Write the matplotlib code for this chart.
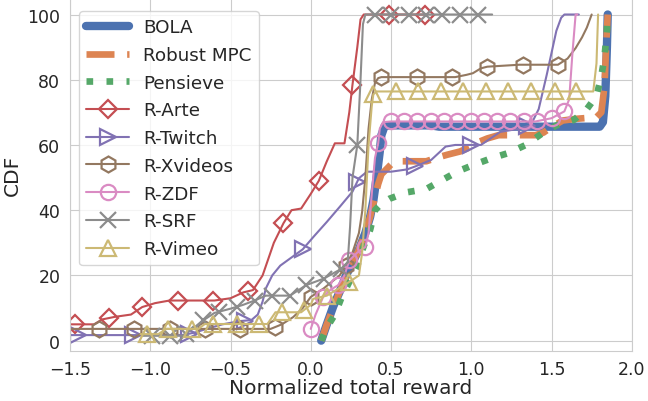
import matplotlib
matplotlib.use('Agg')
import matplotlib.pyplot as plt
import numpy as np
import seaborn as sns

# curve points (x = normalized total reward, y = CDF %)
bola_x = [0.065, 0.1, 0.14, 0.18, 0.22, 0.26, 0.3, 0.34, 0.37, 0.39, 0.41, 0.43, 0.44, 0.46, 0.5,
          0.75, 0.8, 1.8, 1.82, 1.835, 1.845, 1.85]
bola_y = [0, 5, 10.5, 15, 20, 24, 28, 33, 38, 43, 50, 58, 63, 65.8, 66,
          66, 65.6, 65.6, 67, 75, 90, 100]

mpc_x = [0.065, 0.1, 0.14, 0.18, 0.22, 0.26, 0.3, 0.34, 0.37, 0.4, 0.42, 0.44, 0.47, 0.5, 0.55,
         0.72, 0.78, 0.85, 0.93, 1.0, 1.05, 1.1, 1.17, 1.4, 1.45, 1.5, 1.57, 1.65, 1.78, 1.81,
         1.83, 1.84, 1.85]
mpc_y = [0, 5, 10, 15, 19.5, 23.5, 28, 33, 38, 44, 48, 51, 52.5, 54, 55,
         55, 56, 57, 58, 59.5, 61, 62, 63, 63, 63.8, 65.5, 67.5, 68, 68.5, 70,
         78, 90, 100]

pen_x = [0.065, 0.1, 0.15, 0.19, 0.25, 0.29, 0.33, 0.37, 0.4, 0.44, 0.49, 0.6, 0.72, 0.81, 0.92,
         1.02, 1.13, 1.23, 1.34, 1.44, 1.53, 1.64, 1.72, 1.78, 1.81, 1.83, 1.845, 1.85]
pen_y = [0, 4, 8, 13, 19, 23, 29, 34, 40, 42, 43.5, 45.5, 46.5, 49, 52,
         54, 56, 57.5, 60, 63.5, 66, 67.7, 71, 75, 81, 87, 95, 100]

arte_x = [-1.5, -1.35, -1.3, -1.22, -1.12, -1.05, -0.97, -0.88, -0.6, -0.5, -0.42, -0.36, -0.3,
          -0.23, -0.17, -0.12, -0.06, 0.0, 0.05, 0.1, 0.15, 0.21, 0.24, 0.26, 0.29, 0.31, 0.33, 0.72]
arte_y = [5, 5, 6.5, 7.3, 8, 10.3, 11.5, 12.3, 12.3, 13, 14.8, 15.5, 20,
          30, 36, 40, 40.5, 45, 49, 55, 60.5, 60.5, 70, 78.5, 90, 98.5, 100, 100]
arte_marks = [-1.47, -1.26, -1.05, -0.83, -0.61, -0.39, -0.17, 0.05, 0.26, 0.49, 0.71]

tw_x = [-1.5, -1.0, -0.8, -0.72, -0.65, -0.55, -0.44, -0.37, -0.33, -0.3, -0.28, -0.24, -0.19,
        -0.12, -0.05, 0.02, 0.1, 0.18, 0.26, 0.3, 0.35, 0.5, 0.6, 0.65, 0.75, 0.84, 0.9, 1.06,
        1.12, 1.18, 1.3, 1.37, 1.42, 1.47, 1.53, 1.56, 1.58, 1.67]
tw_y = [1.7, 1.7, 1.7, 2.5, 3.6, 5, 6, 6.3, 8, 12, 16, 20, 23,
        25.5, 28, 32, 36.4, 41, 45.7, 49.8, 51.8, 51.8, 52.5, 53.4, 55.4, 59.5, 60, 60,
        62, 64, 65, 66, 71, 81.5, 95, 99, 100, 100]
tw_marks = [-1.45, -1.11, -0.76, -0.41, -0.05, 0.29, 0.65, 1.0, 1.35]

xv_x = [-1.5, -0.25, -0.18, -0.11, -0.05, 0.0, 0.08, 0.18, 0.22, 0.26, 0.3, 0.32, 0.34, 0.36,
        0.38, 0.4, 0.42, 0.44, 0.9, 0.97, 1.01, 1.06, 1.1, 1.3, 1.54, 1.6, 1.65, 1.69, 1.72, 1.75]
xv_y = [3.6, 3.6, 5, 7.2, 10, 13.4, 16, 20, 23, 27, 33, 39.5, 50, 65,
        74, 79, 80.5, 80.8, 80.8, 81.5, 82, 83.5, 84, 84.6, 84.6, 86.5, 89.7, 93, 96, 100]
xv_marks = [-1.32, -1.1, -0.88, -0.66, -0.44, -0.22, 0.0, 0.22, 0.44, 0.66, 0.88, 1.1, 1.32, 1.54]

zdf_x = [0.0, 0.03, 0.077, 0.12, 0.17, 0.21, 0.24, 0.29, 0.34, 0.36, 0.38, 0.4, 0.42, 0.43, 0.45,
         0.5, 1.4, 1.5, 1.58, 1.61, 1.63, 1.65, 1.66]
zdf_y = [3.6, 8, 13.4, 15.5, 17, 20, 24.6, 27, 28.7, 33, 45, 56, 60.5, 65, 67,
         67.2, 67.2, 68.2, 70.3, 74, 88, 100, 100]
zdf_marks = [0.0, 0.077, 0.17, 0.24, 0.34, 0.42, 0.5, 0.58, 0.66, 0.75, 0.83, 0.91, 1.0, 1.08,
             1.16, 1.24, 1.33, 1.41, 1.5, 1.58]

srf_x = [-1.05, -0.8, -0.74, -0.67, -0.6, -0.5, -0.42, -0.35, -0.28, -0.13, -0.06, -0.03, 0.08,
         0.19, 0.23, 0.245, 0.26, 0.29, 0.31, 0.325, 0.34, 1.13]
srf_y = [1.5, 1.5, 3.5, 6.2, 8.5, 9.8, 11, 12.3, 13.8, 13.8, 16, 17, 19,
         22, 24, 35, 50, 60, 80, 97, 100, 100]
srf_marks = [-0.99, -0.88, -0.78, -0.67, -0.57, -0.46, -0.35, -0.24, -0.13, -0.03, 0.08, 0.19,
             0.29, 0.4, 0.5, 0.61, 0.72, 0.82, 0.93, 1.04]

vim_x = [-1.06, -0.95, -0.9, -0.7, -0.66, -0.27, -0.22, -0.06, 0.0, 0.015, 0.1, 0.24, 0.3, 0.32,
         0.34, 0.36, 0.38, 0.39, 0.41, 1.76, 1.78, 1.79]
vim_y = [2, 2, 3.6, 3.6, 5.1, 5.1, 8.7, 8.7, 11, 12.8, 13.8, 18, 20, 27,
         40, 60, 72, 75.5, 76.4, 76.4, 85, 100]
vim_marks = [-1.02, -0.89, -0.74, -0.61, -0.46, -0.32, -0.18, -0.04, 0.1, 0.24, 0.39, 0.53,
             0.67, 0.81, 0.95, 1.09, 1.23, 1.37, 1.52, 1.655]

x_ticks = [-1.5, -1.0, -0.5, 0.0, 0.5, 1.0, 1.5, 2.0]
y_ticks = [0, 20, 40, 60, 80, 100]


def with_marks(x, y, marks):
    # put the marker positions onto the curve so one line carries both
    mx = np.asarray(marks, dtype=float)
    my = np.interp(mx, x, y)
    xs = np.concatenate([x, mx])
    ys = np.concatenate([y, my])
    flag = np.concatenate([np.zeros(len(x), bool), np.ones(len(mx), bool)])
    order = np.argsort(xs, kind='stable')
    return xs[order], ys[order], list(flag[order])


sns.set_style('whitegrid')
plt.rcParams['font.family'] = ['DejaVu Sans']
pal = sns.color_palette('deep')

fig = plt.figure(figsize=(6.48, 4.02), dpi=100)
ax = fig.add_axes([0.108, 0.125, 0.867, 0.877])

ax.plot(bola_x, bola_y, color=pal[0], lw=6, solid_capstyle='round', label='BOLA')
ax.plot(mpc_x, mpc_y, color=pal[1], lw=4.8, ls=(0, (4.2, 1.9)), label='Robust MPC')
ax.plot(pen_x, pen_y, color=pal[2], lw=4.8, ls=(0, (1, 2.0)), label='Pensieve')

series = [
    (arte_x, arte_y, arte_marks, 'D', 'R-Arte', pal[3], 9.5),
    (tw_x, tw_y, tw_marks, '>', 'R-Twitch', pal[4], 11.5),
    (xv_x, xv_y, xv_marks, 'h', 'R-Xvideos', pal[5], 11.5),
    (zdf_x, zdf_y, zdf_marks, 'o', 'R-ZDF', pal[6], 11),
    (srf_x, srf_y, srf_marks, 'x', 'R-SRF', pal[7], 11.5),
    (vim_x, vim_y, vim_marks, '^', 'R-Vimeo', pal[8], 11.5),
]
for x, y, marks, mk, name, c, ms in series:
    xs, ys, flag = with_marks(x, y, marks)
    ax.plot(xs, ys, color=c, lw=1.5, marker=mk, markevery=flag, ms=ms,
            mfc='none', mew=1.6, label=name)

ax.set_xlim(-1.5, 2.0)
ax.set_ylim(-3.1, 105)
ax.set_xticks(x_ticks)
ax.set_yticks(y_ticks)
ax.tick_params(labelsize=12.5)
ax.set_xlabel('Normalized total reward', fontsize=14.5, labelpad=0)
ax.set_ylabel('CDF', fontsize=14.5)
ax.legend(loc='upper left', fontsize=13.2, handlelength=2.3, labelspacing=0.53,
          borderaxespad=0.5, bbox_to_anchor=(0.0, 0.99))

fig.savefig('out.png', dpi=100)
